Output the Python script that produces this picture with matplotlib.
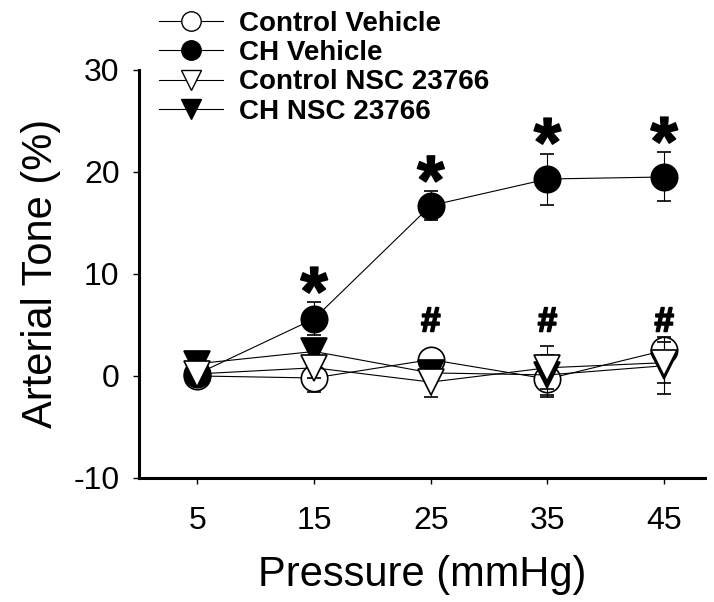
import matplotlib
matplotlib.use("Agg")
import matplotlib.pyplot as plt
import matplotlib.patheffects as pe
from matplotlib.lines import Line2D

plt.rcParams["font.family"] = ["Liberation Sans", "DejaVu Sans"]
plt.rcParams["axes.unicode_minus"] = False

# data
pressure = [5, 15, 25, 35, 45]
ctrl_veh = [0.0, -0.2, 1.6, -0.3, 2.5]
ctrl_veh_err = [0.8, 1.4, 0.8, 1.8, 1.0]
ch_veh = [0.2, 5.6, 16.7, 19.3, 19.5]
ch_veh_err = [0.5, 1.6, 1.4, 2.5, 2.4]
ctrl_nsc = [0.2, 0.8, -0.6, 0.8, 1.3]
ctrl_nsc_err = [0.5, 1.0, 1.5, 2.1, 2.0]
ch_nsc = [1.2, 2.4, 0.3, 0.1, 1.0]
ch_nsc_err = [0.5, 0.8, 0.8, 2.0, 2.8]

star_x = [15, 25, 35, 45]
hash_x = [25, 35, 45]
hash_level = 5.3

labels = ["Control Vehicle", "CH Vehicle", "Control NSC 23766", "CH NSC 23766"]

fig = plt.figure(figsize=(7.14, 6.02), dpi=100)
ax = fig.add_axes([0.1947, 0.206, 0.7927, 0.678])

ms = 19
common = dict(color="black", lw=0.8, elinewidth=0.8, capsize=5, capthick=0.8,
              markeredgecolor="black", markeredgewidth=1.2, ms=ms)

ax.errorbar(pressure, ctrl_veh, yerr=ctrl_veh_err, marker="o", markerfacecolor="white", zorder=2, **common)
ax.errorbar(pressure, ch_veh, yerr=ch_veh_err, marker="o", markerfacecolor="black", zorder=3, **common)
ax.errorbar(pressure, ch_nsc, yerr=ch_nsc_err, marker="v", markerfacecolor="black", zorder=4, **common)
ax.errorbar(pressure, ctrl_nsc, yerr=ctrl_nsc_err, marker="v", markerfacecolor="white", zorder=5, **common)

# significance marks
for x in star_x:
    i = pressure.index(x)
    ax.annotate("*", (x, ch_veh[i] + ch_veh_err[i]), xytext=(0, -9), textcoords="offset points",
                ha="center", va="baseline", fontsize=50, fontweight="bold",
                path_effects=[pe.withStroke(linewidth=1.2, foreground="black")])
for x in hash_x:
    ax.text(x, hash_level, "#", ha="center", va="center", fontsize=25, fontweight="bold",
            path_effects=[pe.withStroke(linewidth=1.3, foreground="black")])

ax.set_xlim(0, 48.5)
ax.set_ylim(-10, 30)
ax.set_xticks(pressure)
ax.set_yticks([-10, 0, 10, 20, 30])
for s in ["top", "right"]:
    ax.spines[s].set_visible(False)
for s in ["left", "bottom"]:
    ax.spines[s].set_linewidth(2.2)
ax.tick_params(direction="out", length=4, width=1, labelsize=23)
ax.tick_params(axis="y", pad=10)
ax.tick_params(axis="x", pad=16)
ax.set_xlabel("Pressure (mmHg)", fontsize=30, labelpad=14)
ax.set_ylabel("Arterial Tone (%)", fontsize=30, labelpad=9)

handles = [
    Line2D([], [], color="black", lw=0.8, marker="o", ms=14, markerfacecolor="white", markeredgecolor="black"),
    Line2D([], [], color="black", lw=0.8, marker="o", ms=14, markerfacecolor="black", markeredgecolor="black"),
    Line2D([], [], color="black", lw=0.8, marker="v", ms=14, markerfacecolor="white", markeredgecolor="black"),
    Line2D([], [], color="black", lw=0.8, marker="v", ms=14, markerfacecolor="black", markeredgecolor="black"),
]
fig.legend(handles, labels, loc="upper left", bbox_to_anchor=(0.2, 1.01), frameon=False,
           prop={"size": 20, "weight": "bold"}, handlelength=2.3, handletextpad=0.55,
           labelspacing=0.12, borderaxespad=0.2)

fig.savefig("out.png", dpi=100)
